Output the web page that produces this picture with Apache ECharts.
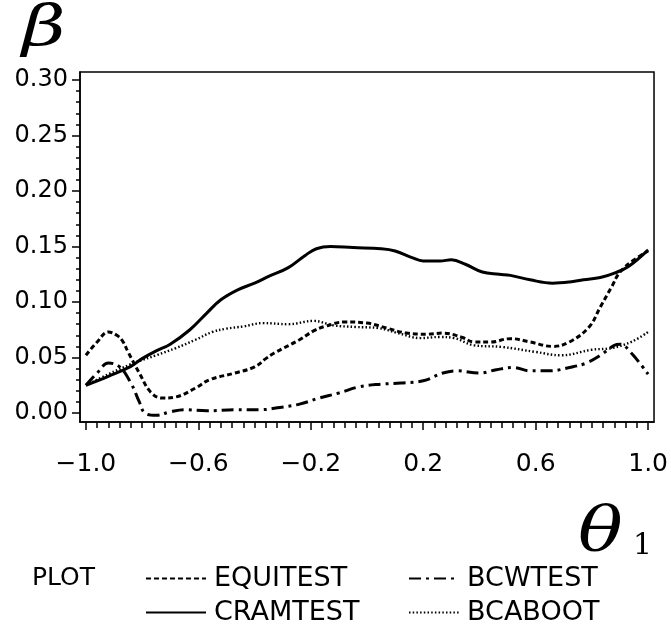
<!DOCTYPE html>
<html>
<head>
<meta charset="utf-8">
<script src="https://cdn.jsdelivr.net/npm/echarts@6/dist/echarts.min.js"></script>
<style>html,body{margin:0;padding:0;background:#fff}#c{width:671px;height:630px}</style>
</head>
<body>
<div id="c"></div>
<script>
// ---- data ----
var equiX = [-1.0,-0.96,-0.92,-0.89,-0.87,-0.85,-0.81,-0.77,-0.73,-0.68,-0.61,-0.56,-0.47,-0.40,-0.36,-0.33,-0.24,-0.19,-0.15,-0.08,0.0,0.07,0.14,0.21,0.27,0.34,0.38,0.44,0.51,0.58,0.66,0.72,0.79,0.83,0.87,0.90,0.95,1.0];
var equiY = [0.052,0.064,0.073,0.070,0.065,0.055,0.036,0.019,0.0135,0.0145,0.0225,0.030,0.036,0.0415,0.049,0.054,0.066,0.074,0.078,0.082,0.081,0.0765,0.072,0.071,0.072,0.068,0.064,0.064,0.067,0.064,0.060,0.064,0.0775,0.0955,0.1135,0.127,0.138,0.146];
var cramX = [-1.0,-0.92,-0.84,-0.80,-0.75,-0.70,-0.63,-0.57,-0.52,-0.46,-0.40,-0.35,-0.28,-0.22,-0.18,-0.13,-0.05,0.05,0.10,0.16,0.20,0.26,0.30,0.35,0.41,0.47,0.51,0.58,0.66,0.72,0.77,0.83,0.88,0.93,1.0];
var cramY = [0.025,0.033,0.042,0.049,0.056,0.062,0.075,0.090,0.102,0.111,0.117,0.123,0.131,0.142,0.148,0.150,0.149,0.148,0.146,0.140,0.137,0.137,0.138,0.134,0.127,0.125,0.124,0.120,0.117,0.118,0.120,0.122,0.126,0.132,0.147];
var bcwX = [-1.0,-0.96,-0.92,-0.88,-0.84,-0.81,-0.79,-0.75,-0.70,-0.65,-0.57,-0.47,-0.38,-0.31,-0.24,-0.17,-0.10,-0.03,0.05,0.12,0.20,0.27,0.32,0.40,0.46,0.52,0.58,0.65,0.72,0.78,0.83,0.88,0.90,0.94,1.0];
var bcwY = [0.025,0.036,0.045,0.0415,0.027,0.010,0.0,-0.002,0.001,0.003,0.002,0.003,0.003,0.005,0.008,0.0135,0.018,0.0235,0.026,0.027,0.029,0.036,0.038,0.036,0.039,0.041,0.038,0.038,0.041,0.045,0.052,0.061,0.062,0.054,0.035];
var bcaX = [-1.0,-0.92,-0.84,-0.82,-0.75,-0.68,-0.61,-0.55,-0.50,-0.44,-0.37,-0.28,-0.19,-0.12,-0.04,0.04,0.11,0.19,0.26,0.31,0.38,0.48,0.60,0.69,0.80,0.87,0.94,1.0];
var bcaY = [0.025,0.035,0.044,0.046,0.052,0.0585,0.066,0.073,0.076,0.078,0.081,0.080,0.083,0.079,0.0775,0.0765,0.072,0.0675,0.0685,0.0675,0.061,0.0595,0.055,0.052,0.057,0.0585,0.064,0.073];

var xMajor = [-1.0,-0.6,-0.2,0.2,0.6,1.0];
var yMajor = [0.00,0.05,0.10,0.15,0.20,0.25,0.30];
var xMinor = []; for (var i = 0; i <= 50; i++) xMinor.push(+(-1 + i*0.04).toFixed(2));
var yMinor = []; for (var j = 0; j <= 30; j++) yMinor.push(+(j*0.01).toFixed(2));
var seriesNames = ['EQUITEST','CRAMTEST','BCWTEST','BCABOOT'];

function pairs(xs, ys){ return xs.map(function(x,i){ return [x, ys[i]]; }); }

var X_MIN = -1.021, X_MAX = 1.021, Y_MIN = -0.0081, Y_MAX = 0.3072;
var font = 'DejaVu Sans';

var chart = echarts.init(document.getElementById('c'), null, {renderer:'canvas'});
var base = {type:'value', min:X_MIN, max:X_MAX, splitLine:{show:false}};
function leg(name, left, top, w){
  return {data:[name], orient:'horizontal', left:left, top:top, padding:0, itemWidth:w, itemHeight:22,
    selectedMode:false, itemStyle:{opacity:0},
    textStyle:{fontFamily:font, fontSize:27, color:'#000', padding:[0,0,0,3]}};
}
chart.setOption({
  animation:false,
  backgroundColor:'#fff',
  grid:{left:80, top:72, width:584, height:350, show:true, borderColor:'#000', borderWidth:1.5, backgroundColor:'transparent'},
  xAxis:[
    Object.assign({}, base, {position:'bottom',
      axisLine:{show:true, onZero:false, lineStyle:{color:'#000', width:1.5}},
      axisTick:{show:true, customValues:xMajor, length:8, lineStyle:{color:'#000', width:1.5}},
      axisLabel:{customValues:xMajor, margin:30, color:'#000', fontFamily:font, fontSize:25,
        formatter:function(v){ return (v<0?'\u2212':'') + Math.abs(v).toFixed(1); }}}),
    Object.assign({}, base, {position:'bottom',
      axisLine:{show:false, onZero:false},
      axisTick:{show:true, customValues:xMinor, length:6, lineStyle:{color:'#000', width:1.5}},
      axisLabel:{show:false}})
  ],
  yAxis:[
    {type:'value', min:Y_MIN, max:Y_MAX, position:'left', splitLine:{show:false},
      axisLine:{show:true, onZero:false, lineStyle:{color:'#000', width:1.5}},
      axisTick:{show:true, customValues:yMajor, length:8, lineStyle:{color:'#000', width:1.5}},
      axisLabel:{customValues:yMajor, margin:12, color:'#000', fontFamily:font, fontSize:24,
        formatter:function(v){ return v.toFixed(2); }}},
    {type:'value', min:Y_MIN, max:Y_MAX, position:'left', splitLine:{show:false},
      axisLine:{show:false, onZero:false},
      axisTick:{show:true, customValues:yMinor, length:4, lineStyle:{color:'#000', width:1.5}},
      axisLabel:{show:false}}
  ],
  legend:[
    leg(seriesNames[0], 145, 565, 60),
    leg(seriesNames[1], 145, 599, 60),
    leg(seriesNames[2], 408, 565, 50),
    leg(seriesNames[3], 408, 599, 50)
  ],
  graphic:[
    {type:'text', left:32, top:566, style:{text:'PLOT', font:'25px "DejaVu Sans"', fill:'#000'}},
    {type:'text', x:22, y:2, scaleX:1.35, style:{text:'\u03B2', font:'italic 56px "DejaVu Serif"', fill:'#000', verticalAlign:'top'}},
    {type:'text', x:578, y:503, scaleX:1.2, style:{text:'\u03B8', font:'italic 62px "DejaVu Serif"', fill:'#000', verticalAlign:'top'}},
    {type:'text', x:633, y:531, style:{text:'1', font:'30px "DejaVu Serif"', fill:'#000', verticalAlign:'top'}}
  ],
  series:[
    {name:seriesNames[0], type:'line', symbol:'none', smooth:0.4, data:pairs(equiX, equiY),
      lineStyle:{color:'#000', width:3, type:[5,3]}, itemStyle:{color:'#000'}},
    {name:seriesNames[1], type:'line', symbol:'none', smooth:0.4, data:pairs(cramX, cramY),
      lineStyle:{color:'#000', width:3, type:'solid'}, itemStyle:{color:'#000'}},
    {name:seriesNames[2], type:'line', symbol:'none', smooth:0.4, data:pairs(bcwX, bcwY),
      lineStyle:{color:'#000', width:3, type:[12,5,3,5]}, itemStyle:{color:'#000'}},
    {name:seriesNames[3], type:'line', symbol:'none', smooth:0.4, data:pairs(bcaX, bcaY),
      lineStyle:{color:'#000', width:2.4, type:[1.5,2.2]}, itemStyle:{color:'#000'}}
  ]
});
</script>
</body>
</html>
